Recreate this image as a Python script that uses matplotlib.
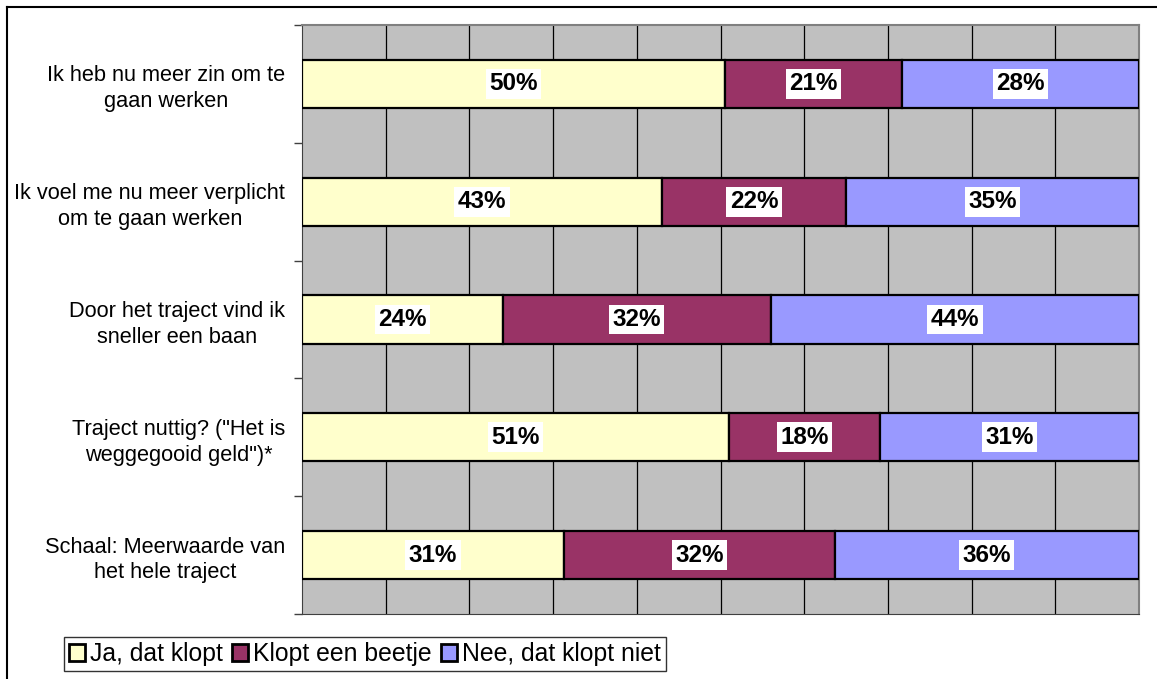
import numpy as np
import matplotlib.pyplot as plt
from matplotlib.patches import Patch
from matplotlib.lines import Line2D

plt.rcParams['font.family'] = ['Liberation Sans', 'DejaVu Sans']

categories = [
    "Ik heb nu meer zin om te\ngaan werken",
    "Ik voel me nu meer verplicht\nom te gaan werken",
    "Door het traject vind ik\nsneller een baan",
    "Traject nuttig? (\"Het is\nweggegooid geld\")*",
    "Schaal: Meerwaarde van\nhet hele traject",
]
series = ["Ja, dat klopt", "Klopt een beetje", "Nee, dat klopt niet"]
ja = [50, 43, 24, 51, 31]
beetje = [21, 22, 32, 18, 32]
nee = [28, 35, 44, 31, 36]
colors = ["#FFFFCC", "#993366", "#9999FF"]

W, H = 1157, 679
fig = plt.figure(figsize=(W / 100, H / 100), dpi=100)
ax = fig.add_axes([302 / W, 1 - 614 / H, (1139 - 302) / W, (614 - 25) / H])
ax.set_facecolor("#C0C0C0")

data = np.array([ja, beetje, nee], dtype=float)
shares = data / data.sum(axis=0) * 100  # percent stacked, like excel
y = np.arange(len(categories))
left = np.zeros(len(categories))
for i, name in enumerate(series):
    ax.barh(y, shares[i], left=left, height=0.41, color=colors[i],
            edgecolor="black", linewidth=1.6, label=name, zorder=3)
    for yy, l, w, v in zip(y, left, shares[i], data[i]):
        ax.text(l + w / 2, yy, f"{int(v)}%", ha="center", va="center",
                fontsize=17.5, fontweight="bold", zorder=4,
                bbox=dict(facecolor="white", edgecolor="none", pad=2.5))
    left += shares[i]

ax.set_xlim(0, 100)
ax.set_ylim(len(categories) - 0.5, -0.5)
ax.set_xticks(np.arange(10, 100, 10))
ax.tick_params(axis="x", length=0, labelbottom=False)
ax.grid(axis="x", color="black", linewidth=0.9, zorder=1)
ax.set_axisbelow(True)

ax.set_yticks(y)
ax.set_yticklabels(categories, fontsize=15.7, linespacing=1.3,
                   multialignment="center")
ax.tick_params(axis="y", which="major", length=0, pad=12)
ax.set_yticks(np.arange(-0.5, len(categories)), minor=True)
ax.tick_params(axis="y", which="minor", length=6, color="#404040", width=1)

for s in ["top", "right"]:
    ax.spines[s].set_color("#808080")
    ax.spines[s].set_linewidth(1.5)
ax.spines["left"].set_color("#404040")
ax.spines["bottom"].set_color("#404040")

handles = [Patch(facecolor=c, edgecolor="black", linewidth=2) for c in colors]
fig.legend(handles, series, loc="lower left", bbox_to_anchor=(64 / W, 8 / H),
           ncol=3, fontsize=17.8, frameon=True, fancybox=False,
           edgecolor="black", handlelength=0.65, handleheight=0.65,
           handletextpad=0.22, columnspacing=0.35, borderpad=0.2,
           borderaxespad=0)

# outer chart border
fig.add_artist(Line2D([7 / W, 1.01], [1 - 7 / H, 1 - 7 / H], color="black", linewidth=1.5))
fig.add_artist(Line2D([7 / W, 7 / W], [-0.01, 1 - 7 / H], color="black", linewidth=1.5))

fig.savefig("out.png", dpi=100)
